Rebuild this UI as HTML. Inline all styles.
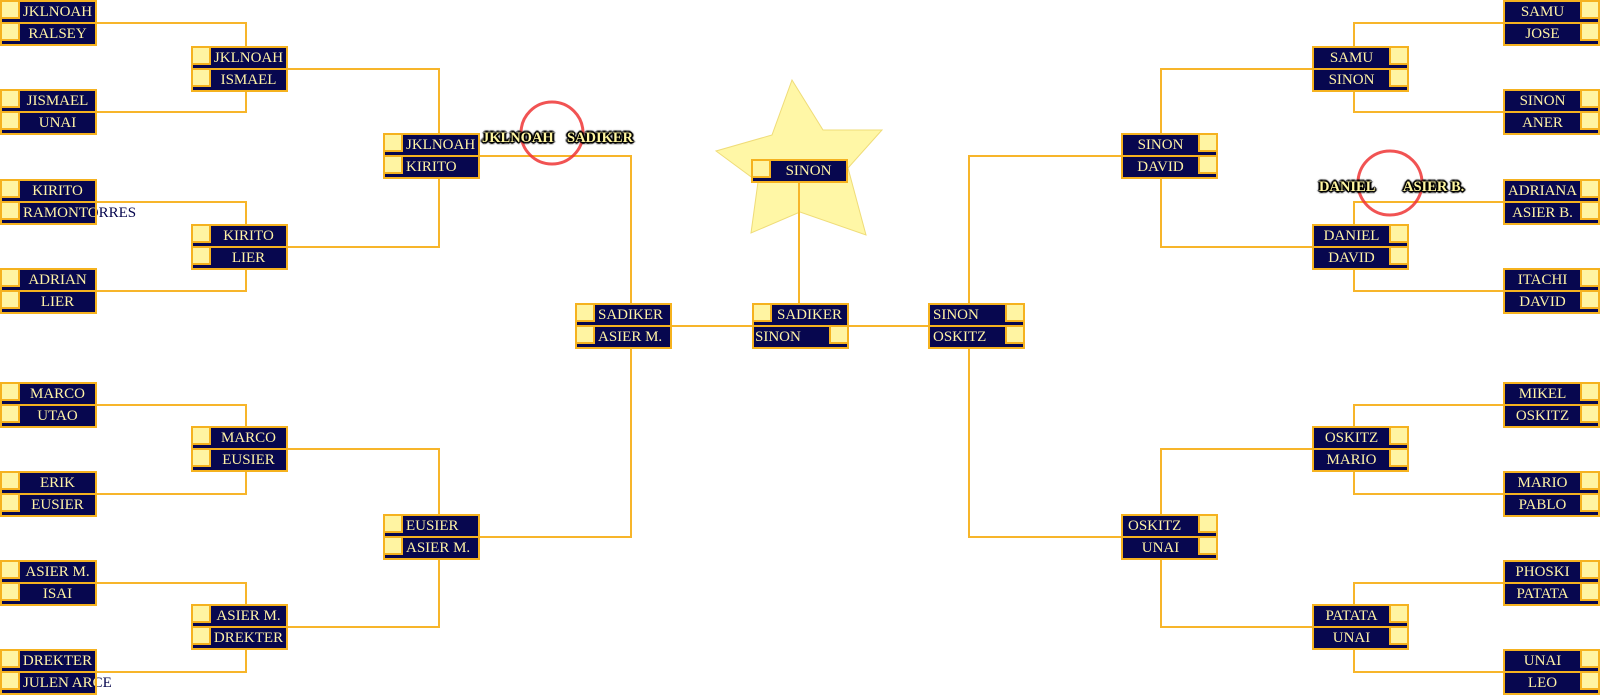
<!DOCTYPE html>
<html><head><meta charset="utf-8"><style>
html,body{margin:0;padding:0;background:#fff}
body{width:1600px;height:696px;position:relative;overflow:hidden}
.p{position:absolute;width:97px;height:46px;background:#f5b21f;z-index:3}
.s{position:absolute;left:2px;width:93px;height:20px;background:#07074f;overflow:hidden}
.s1{top:2px}.s2{top:24px}
.q{position:absolute;top:0;left:0;width:16px;height:15px;background:#fff4a2;border-right:2px solid #f5b21f;border-bottom:2px solid #f5b21f}
.r .q,.s.r .q{left:auto;right:0;border-right:0;border-left:2px solid #f5b21f}
.t{position:absolute;top:0;left:18px;right:0;height:20px;font:15px/21px "Liberation Serif",serif;text-align:center;color:#fff3a6;white-space:nowrap;font-style:normal;font-weight:normal}
.r .t,.s.r .t{left:0;right:18px}
.lt .t{text-align:left;padding-left:3px}
.h,.v{position:absolute;background:#f7b52a;z-index:2}
.h{height:2px}.v{width:2px}
.nv{position:absolute;height:20px;font:15px/21px "Liberation Serif",serif;color:#07074f;white-space:nowrap;z-index:1}
.lb{position:absolute;height:20px;font:bold 14.5px/20px "Liberation Serif",serif;color:#fff6a0;white-space:nowrap;z-index:6;
text-shadow:1px 1px 0 #000,-1px -1px 0 #000,1px -1px 0 #000,-1px 1px 0 #000,0 2px 1px #000,0 -2px 1px #000,2px 0 1px #000,-2px 0 1px #000,0 0 3px #000}
svg{position:absolute;left:0;top:0}
</style></head><body>

<svg width="1600" height="696" style="z-index:0">
<polygon points="792,80 823,130 882,130 848,168 866,235 800,212 751,233 758,182 716,151 772,135" fill="#fff7a6" stroke="#efdc78" stroke-width="1"/>
</svg>

<!-- overflow navy text -->
<span class="nv" style="left:23px;top:203px">RAMONTORRES</span>
<span class="nv" style="left:23px;top:673px">JULEN ARCE</span>

<!-- LEFT COL 1 -->
<div class="p" style="left:0;top:0"><div class="s s1"><i class="q"></i><b class="t">JKLNOAH</b></div><div class="s s2"><i class="q"></i><b class="t">RALSEY</b></div></div>
<div class="p" style="left:0;top:89px"><div class="s s1"><i class="q"></i><b class="t">JISMAEL</b></div><div class="s s2"><i class="q"></i><b class="t">UNAI</b></div></div>
<div class="p" style="left:0;top:179px"><div class="s s1"><i class="q"></i><b class="t">KIRITO</b></div><div class="s s2"><i class="q"></i><b class="t" style="text-align:left;padding-left:3px">RAMONTORRES</b></div></div>
<div class="p" style="left:0;top:268px"><div class="s s1"><i class="q"></i><b class="t">ADRIAN</b></div><div class="s s2"><i class="q"></i><b class="t">LIER</b></div></div>
<div class="p" style="left:0;top:382px"><div class="s s1"><i class="q"></i><b class="t">MARCO</b></div><div class="s s2"><i class="q"></i><b class="t">UTAO</b></div></div>
<div class="p" style="left:0;top:471px"><div class="s s1"><i class="q"></i><b class="t">ERIK</b></div><div class="s s2"><i class="q"></i><b class="t">EUSIER</b></div></div>
<div class="p" style="left:0;top:560px"><div class="s s1"><i class="q"></i><b class="t">ASIER M.</b></div><div class="s s2"><i class="q"></i><b class="t">ISAI</b></div></div>
<div class="p" style="left:0;top:649px"><div class="s s1"><i class="q"></i><b class="t">DREKTER</b></div><div class="s s2"><i class="q"></i><b class="t" style="text-align:left;padding-left:3px">JULEN ARCE</b></div></div>

<!-- LEFT COL 2 -->
<div class="p" style="left:191px;top:46px"><div class="s s1"><i class="q"></i><b class="t">JKLNOAH</b></div><div class="s s2"><i class="q"></i><b class="t">ISMAEL</b></div></div>
<div class="p" style="left:191px;top:224px"><div class="s s1"><i class="q"></i><b class="t">KIRITO</b></div><div class="s s2"><i class="q"></i><b class="t">LIER</b></div></div>
<div class="p" style="left:191px;top:426px"><div class="s s1"><i class="q"></i><b class="t">MARCO</b></div><div class="s s2"><i class="q"></i><b class="t">EUSIER</b></div></div>
<div class="p" style="left:191px;top:604px"><div class="s s1"><i class="q"></i><b class="t">ASIER M.</b></div><div class="s s2"><i class="q"></i><b class="t">DREKTER</b></div></div>

<!-- LEFT COL 3 -->
<div class="p lt" style="left:383px;top:133px"><div class="s s1"><i class="q"></i><b class="t">JKLNOAH</b></div><div class="s s2"><i class="q"></i><b class="t">KIRITO</b></div></div>
<div class="p lt" style="left:383px;top:514px"><div class="s s1"><i class="q"></i><b class="t">EUSIER</b></div><div class="s s2"><i class="q"></i><b class="t">ASIER M.</b></div></div>

<!-- LEFT COL 4 -->
<div class="p lt" style="left:575px;top:303px"><div class="s s1"><i class="q"></i><b class="t">SADIKER</b></div><div class="s s2"><i class="q"></i><b class="t">ASIER M.</b></div></div>

<!-- CENTER -->
<div class="p" style="left:752px;top:303px"><div class="s s1"><i class="q"></i><b class="t">SADIKER</b></div><div class="s s2 r lt"><i class="q"></i><b class="t" style="padding-left:1px">SINON</b></div></div>
<div class="p" style="left:751px;top:159px;height:24px"><div class="s s1"><i class="q"></i><b class="t">SINON</b></div></div>

<!-- RIGHT COL 4 -->
<div class="p r lt" style="left:928px;top:303px"><div class="s s1"><i class="q"></i><b class="t">SINON</b></div><div class="s s2"><i class="q"></i><b class="t">OSKITZ</b></div></div>

<!-- RIGHT COL 3 -->
<div class="p r" style="left:1121px;top:133px"><div class="s s1"><i class="q"></i><b class="t">SINON</b></div><div class="s s2"><i class="q"></i><b class="t">DAVID</b></div></div>
<div class="p r" style="left:1121px;top:514px"><div class="s s1"><i class="q"></i><b class="t" style="text-align:left;padding-left:5px">OSKITZ</b></div><div class="s s2"><i class="q"></i><b class="t">UNAI</b></div></div>

<!-- RIGHT COL 2 -->
<div class="p r" style="left:1312px;top:46px"><div class="s s1"><i class="q"></i><b class="t">SAMU</b></div><div class="s s2"><i class="q"></i><b class="t">SINON</b></div></div>
<div class="p r" style="left:1312px;top:224px"><div class="s s1"><i class="q"></i><b class="t">DANIEL</b></div><div class="s s2"><i class="q"></i><b class="t">DAVID</b></div></div>
<div class="p r" style="left:1312px;top:426px"><div class="s s1"><i class="q"></i><b class="t">OSKITZ</b></div><div class="s s2"><i class="q"></i><b class="t">MARIO</b></div></div>
<div class="p r" style="left:1312px;top:604px"><div class="s s1"><i class="q"></i><b class="t">PATATA</b></div><div class="s s2"><i class="q"></i><b class="t">UNAI</b></div></div>

<!-- RIGHT COL 1 -->
<div class="p r" style="left:1503px;top:0"><div class="s s1"><i class="q"></i><b class="t">SAMU</b></div><div class="s s2"><i class="q"></i><b class="t">JOSE</b></div></div>
<div class="p r" style="left:1503px;top:89px"><div class="s s1"><i class="q"></i><b class="t">SINON</b></div><div class="s s2"><i class="q"></i><b class="t">ANER</b></div></div>
<div class="p r" style="left:1503px;top:179px"><div class="s s1"><i class="q"></i><b class="t">ADRIANA</b></div><div class="s s2"><i class="q"></i><b class="t">ASIER B.</b></div></div>
<div class="p r" style="left:1503px;top:268px"><div class="s s1"><i class="q"></i><b class="t">ITACHI</b></div><div class="s s2"><i class="q"></i><b class="t">DAVID</b></div></div>
<div class="p r" style="left:1503px;top:382px"><div class="s s1"><i class="q"></i><b class="t">MIKEL</b></div><div class="s s2"><i class="q"></i><b class="t">OSKITZ</b></div></div>
<div class="p r" style="left:1503px;top:471px"><div class="s s1"><i class="q"></i><b class="t">MARIO</b></div><div class="s s2"><i class="q"></i><b class="t">PABLO</b></div></div>
<div class="p r" style="left:1503px;top:560px"><div class="s s1"><i class="q"></i><b class="t">PHOSKI</b></div><div class="s s2"><i class="q"></i><b class="t">PATATA</b></div></div>
<div class="p r" style="left:1503px;top:649px"><div class="s s1"><i class="q"></i><b class="t">UNAI</b></div><div class="s s2"><i class="q"></i><b class="t">LEO</b></div></div>

<!-- LEFT LINES col1->col2 -->
<div class="h" style="left:97px;top:22px;width:150px"></div><div class="v" style="left:245px;top:22px;height:24px"></div>
<div class="h" style="left:97px;top:111px;width:150px"></div><div class="v" style="left:245px;top:92px;height:21px"></div>
<div class="h" style="left:97px;top:201px;width:150px"></div><div class="v" style="left:245px;top:201px;height:23px"></div>
<div class="h" style="left:97px;top:290px;width:150px"></div><div class="v" style="left:245px;top:270px;height:22px"></div>
<div class="h" style="left:97px;top:404px;width:150px"></div><div class="v" style="left:245px;top:404px;height:22px"></div>
<div class="h" style="left:97px;top:493px;width:150px"></div><div class="v" style="left:245px;top:472px;height:23px"></div>
<div class="h" style="left:97px;top:582px;width:150px"></div><div class="v" style="left:245px;top:582px;height:22px"></div>
<div class="h" style="left:97px;top:671px;width:150px"></div><div class="v" style="left:245px;top:650px;height:23px"></div>
<!-- col2->col3 -->
<div class="h" style="left:287px;top:68px;width:153px"></div><div class="v" style="left:438px;top:68px;height:65px"></div>
<div class="h" style="left:287px;top:246px;width:153px"></div><div class="v" style="left:438px;top:179px;height:69px"></div>
<div class="h" style="left:287px;top:448px;width:153px"></div><div class="v" style="left:438px;top:448px;height:66px"></div>
<div class="h" style="left:287px;top:626px;width:153px"></div><div class="v" style="left:438px;top:560px;height:68px"></div>
<!-- col3->col4 -->
<div class="h" style="left:479px;top:155px;width:153px"></div><div class="v" style="left:630px;top:155px;height:148px"></div>
<div class="h" style="left:479px;top:536px;width:153px"></div><div class="v" style="left:630px;top:349px;height:189px"></div>
<!-- center -->
<div class="h" style="left:672px;top:325px;width:80px"></div>
<div class="h" style="left:848px;top:325px;width:80px"></div>
<div class="v" style="left:798px;top:183px;height:120px"></div>

<!-- RIGHT LINES col1->col2 -->
<div class="h" style="left:1353px;top:22px;width:150px"></div><div class="v" style="left:1353px;top:22px;height:24px"></div>
<div class="h" style="left:1353px;top:111px;width:150px"></div><div class="v" style="left:1353px;top:92px;height:21px"></div>
<div class="h" style="left:1353px;top:201px;width:150px"></div><div class="v" style="left:1353px;top:201px;height:23px"></div>
<div class="h" style="left:1353px;top:290px;width:150px"></div><div class="v" style="left:1353px;top:270px;height:22px"></div>
<div class="h" style="left:1353px;top:404px;width:150px"></div><div class="v" style="left:1353px;top:404px;height:22px"></div>
<div class="h" style="left:1353px;top:493px;width:150px"></div><div class="v" style="left:1353px;top:472px;height:23px"></div>
<div class="h" style="left:1353px;top:582px;width:150px"></div><div class="v" style="left:1353px;top:582px;height:22px"></div>
<div class="h" style="left:1353px;top:671px;width:150px"></div><div class="v" style="left:1353px;top:650px;height:23px"></div>
<!-- col2->col3 -->
<div class="h" style="left:1160px;top:68px;width:153px"></div><div class="v" style="left:1160px;top:68px;height:65px"></div>
<div class="h" style="left:1160px;top:246px;width:153px"></div><div class="v" style="left:1160px;top:179px;height:69px"></div>
<div class="h" style="left:1160px;top:448px;width:153px"></div><div class="v" style="left:1160px;top:448px;height:66px"></div>
<div class="h" style="left:1160px;top:626px;width:153px"></div><div class="v" style="left:1160px;top:560px;height:68px"></div>
<!-- col3->col4 -->
<div class="h" style="left:968px;top:155px;width:153px"></div><div class="v" style="left:968px;top:155px;height:148px"></div>
<div class="h" style="left:968px;top:536px;width:153px"></div><div class="v" style="left:968px;top:349px;height:189px"></div>

<!-- circles -->
<svg width="1600" height="696" style="z-index:5">
<circle cx="552" cy="133" r="31" fill="none" stroke="#ef3535" stroke-width="3" opacity="0.85"/>
<circle cx="1390" cy="183" r="32" fill="none" stroke="#ef3535" stroke-width="3" opacity="0.85"/>
</svg>

<!-- labels -->
<span class="lb" style="left:482px;top:128px">JKLNOAH</span>
<span class="lb" style="left:567px;top:128px">SADIKER</span>
<span class="lb" style="left:1319px;top:177px">DANIEL</span>
<span class="lb" style="left:1403px;top:177px">ASIER B.</span>

</body></html>
